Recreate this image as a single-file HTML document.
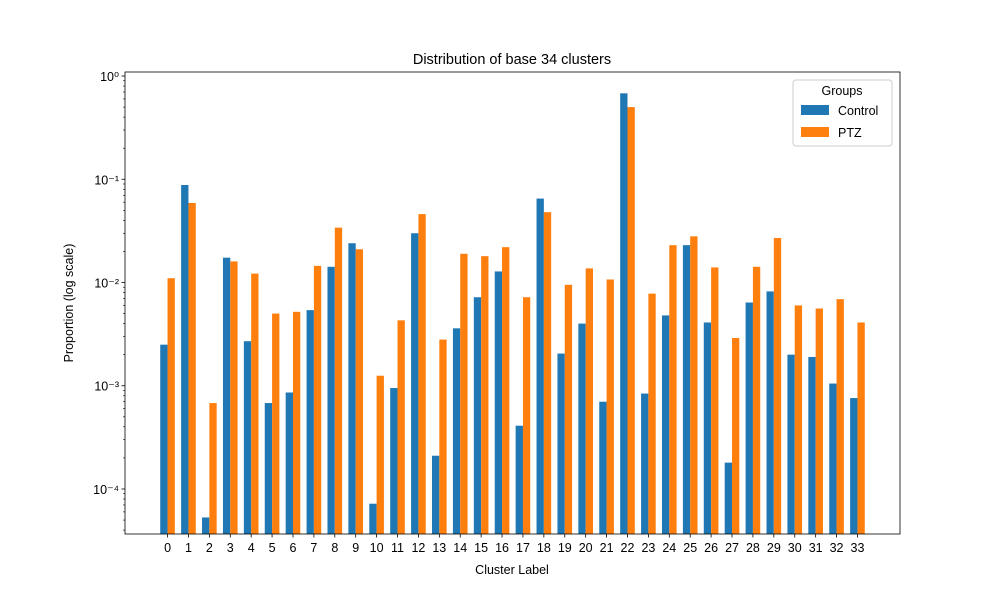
<!DOCTYPE html>
<html><head><meta charset="utf-8"><style>
body{margin:0;background:#fff;}
svg text{font-family:"Liberation Sans","DejaVu Sans",sans-serif;fill:#000;}
</style></head><body>
<svg id="chart" width="1000" height="600" xmlns="http://www.w3.org/2000/svg">
<rect width="1000" height="600" fill="#fff"/>
<text x="512" y="64" font-size="14.5" text-anchor="middle">Distribution of base 34 clusters</text>
<text x="512" y="574" font-size="12.5" text-anchor="middle">Cluster Label</text>
<text x="73" y="303" font-size="12.5" text-anchor="middle" transform="rotate(-90 73 303)">Proportion (log scale)</text>
<g id="bars"></g><g id="axes"></g>
<g>
<rect x="793" y="80" width="99" height="66" fill="#fff" stroke="#ccc" rx="3"/>
<text x="842" y="95" font-size="12.5" text-anchor="middle">Groups</text>
<rect x="801" y="105" width="28" height="10" fill="#1f77b4"/>
<text x="838" y="115" font-size="12.5">Control</text>
<rect x="801" y="127" width="28" height="10" fill="#ff7f0e"/>
<text x="838" y="137" font-size="12.5">PTZ</text>
</g>
</svg>
<script>
const categories=[0,1,2,3,4,5,6,7,8,9,10,11,12,13,14,15,16,17,18,19,20,21,22,23,24,25,26,27,28,29,30,31,32,33];
const control=[2.5e-3,0.088,5.3e-5,0.0174,2.7e-3,6.8e-4,8.6e-4,5.4e-3,0.0142,0.024,7.2e-5,9.5e-4,0.030,2.1e-4,3.6e-3,7.2e-3,0.0128,4.1e-4,0.065,2.05e-3,4.0e-3,7.0e-4,0.68,8.4e-4,4.8e-3,0.023,4.1e-3,1.8e-4,6.4e-3,8.2e-3,2.0e-3,1.9e-3,1.05e-3,7.6e-4];
const ptz=[0.011,0.059,6.8e-4,0.016,0.0122,5.0e-3,5.2e-3,0.0145,0.034,0.021,1.25e-3,4.3e-3,0.046,2.8e-3,0.019,0.018,0.022,7.2e-3,0.048,9.5e-3,0.0137,0.0107,0.50,7.8e-3,0.023,0.028,0.014,2.9e-3,0.0142,0.027,6.0e-3,5.6e-3,6.9e-3,4.1e-3];
const yTicks=[1e-4,1e-3,1e-2,1e-1,1];
const yTickLabels=["10\u207B\u2074","10\u207B\u00B3","10\u207B\u00B2","10\u207B\u00B9","10\u2070"];
const NS="http://www.w3.org/2000/svg";
const L=125,R=900,T=72,B=534;
const xmin=-2.035,xmax=35.035;
const lmin=-4.436,lmax=0.039;
const xs=v=>L+(v-xmin)/(xmax-xmin)*(R-L);
const ys=v=>B-(Math.log10(v)-lmin)/(lmax-lmin)*(B-T);
function mk(t,a,p){const e=document.createElementNS(NS,t);for(const k in a)e.setAttribute(k,a[k]);p.appendChild(e);return e;}
const bars=document.getElementById('bars'),axes=document.getElementById('axes');
const w=0.35;
categories.forEach((c,i)=>{
 const x0=xs(c-w),x1=xs(c),x2=xs(c+w);
 const b1=mk('rect',{x:x0,y:ys(control[i]),width:x1-x0,height:B-ys(control[i]),fill:'#1f77b4'},bars);
 
 
 const b2=mk('rect',{x:x1,y:ys(ptz[i]),width:x2-x1,height:B-ys(ptz[i]),fill:'#ff7f0e'},bars);
 
 
 const xc=xs(c);
 mk('line',{x1:xc,x2:xc,y1:B,y2:B+3.5,stroke:'#000','stroke-width':0.8},axes);
 const t=mk('text',{x:xc,y:B+18,'font-size':12.5,'text-anchor':'middle'},axes);
 t.textContent=c;
 
 
});
yTicks.forEach((v,i)=>{
 const y=ys(v);
 mk('line',{x1:L-3.5,x2:L,y1:y,y2:y,stroke:'#000','stroke-width':0.8},axes);
 const t=mk('text',{x:L-6,y:y+5,'font-size':12.5,'text-anchor':'end'},axes);
 t.textContent=yTickLabels[i];
 
 
 for(let m=2;m<10;m++){const mv=v*m;if(mv<Math.pow(10,lmax)){const my=ys(mv);mk('line',{x1:L-2,x2:L,y1:my,y2:my,stroke:'#000','stroke-width':0.6},axes);}}
});
for(let m=4;m<10;m++){const my=ys(m*1e-5);if(my<B)mk('line',{x1:L-2,x2:L,y1:my,y2:my,stroke:'#000','stroke-width':0.6},axes);}
const fr=mk('rect',{x:L,y:T,width:R-L,height:B-T,fill:'none',stroke:'#000','stroke-width':0.8},axes);


</script>
</body></html>
